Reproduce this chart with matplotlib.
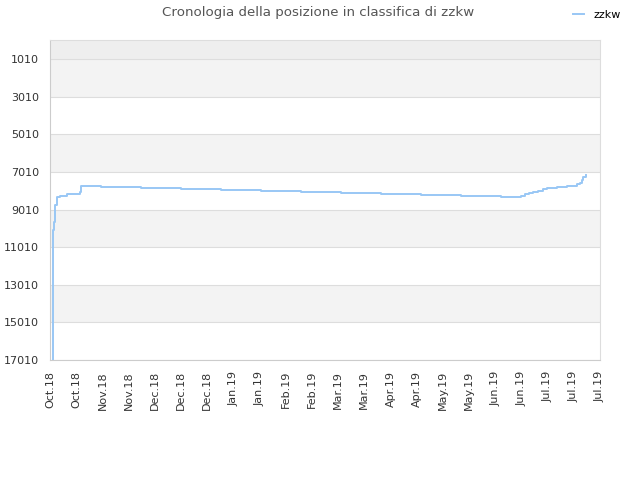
import datetime as dt
import matplotlib
matplotlib.use('Agg')
import matplotlib.pyplot as plt

# posizione in classifica: giorni dal 2018-10-08 -> rank
start_date = dt.datetime(2018, 10, 8)
days = [1.44, 1.45, 2.14, 2.67, 3.58, 5.35, 9.09, 16.04, 16.4, 27.26, 48.6, 70.0,
        91.4, 112.8, 134.2, 155.5, 176.9, 198.3, 219.7, 241.1, 251.8, 253.9, 256.0,
        258.2, 260.9, 263.5, 265.7, 271.0, 276.4, 281.7, 283.3, 284.4, 284.9, 286.5]
ranks = [17500, 10100, 9660, 8776, 8335, 8280, 8205, 8085, 7750, 7802, 7855, 7909,
         7962, 8015, 8068, 8122, 8175, 8228, 8281, 8334, 8280, 8206, 8153,
         8100, 8015, 7925, 7872, 7818, 7749, 7675, 7622, 7446, 7303, 7196]

y_ticks = [1010, 3010, 5010, 7010, 9010, 11010, 13010, 15010, 17010]
x_tick_labels = ['Oct.18', 'Oct.18', 'Nov.18', 'Nov.18', 'Dec.18', 'Dec.18', 'Dec.18',
                 'Jan.19', 'Jan.19', 'Feb.19', 'Feb.19', 'Mar.19', 'Mar.19', 'Apr.19',
                 'Apr.19', 'May.19', 'May.19', 'Jun.19', 'Jun.19', 'Jul.19', 'Jul.19',
                 'Jul.19']

dates = [start_date + dt.timedelta(days=d) for d in days]
x_ticks = [start_date + dt.timedelta(days=14 * i) for i in range(len(x_tick_labels))]

fig = plt.figure(figsize=(6.4, 4.8), dpi=100)
ax = fig.add_axes([50 / 640, 120 / 480, 550 / 640, 320 / 480])

# fasce alternate
ax.axhspan(0, y_ticks[0], color='#eeeeee', zorder=0, lw=0)
for i in range(len(y_ticks) - 1):
    c = '#f3f3f3' if i % 2 == 0 else '#ffffff'
    ax.axhspan(y_ticks[i], y_ticks[i + 1], color=c, zorder=0, lw=0)
for y in y_ticks:
    ax.axhline(y, color='#dddddd', lw=0.8, zorder=1)

ax.plot(dates, ranks, drawstyle='steps-post', color='#99c7f5', lw=1.4,
        label='zzkw', zorder=3)

ax.set_ylim(17010, 0)
ax.set_yticks(y_ticks)
ax.set_yticklabels([str(v) for v in y_ticks])
ax.set_xlim(start_date, start_date + dt.timedelta(days=294))
ax.set_xticks(x_ticks)
ax.set_xticklabels(x_tick_labels, rotation=90)
ax.tick_params(axis='both', length=0, labelsize=8, colors='#333333', pad=8)

for s in ax.spines.values():
    s.set_color('#dddddd')
ax.spines['left'].set_color('#cccccc')
ax.spines['bottom'].set_color('#cccccc')

fig.text(0.4975, 0.988, 'Cronologia della posizione in classifica di zzkw',
         ha='center', va='top', fontsize=9.6, color='#555555')
fig.legend(loc='upper right', bbox_to_anchor=(0.985, 1.0), frameon=False,
           fontsize=8, handlelength=1.0)

plt.savefig('out.png', dpi=100)
